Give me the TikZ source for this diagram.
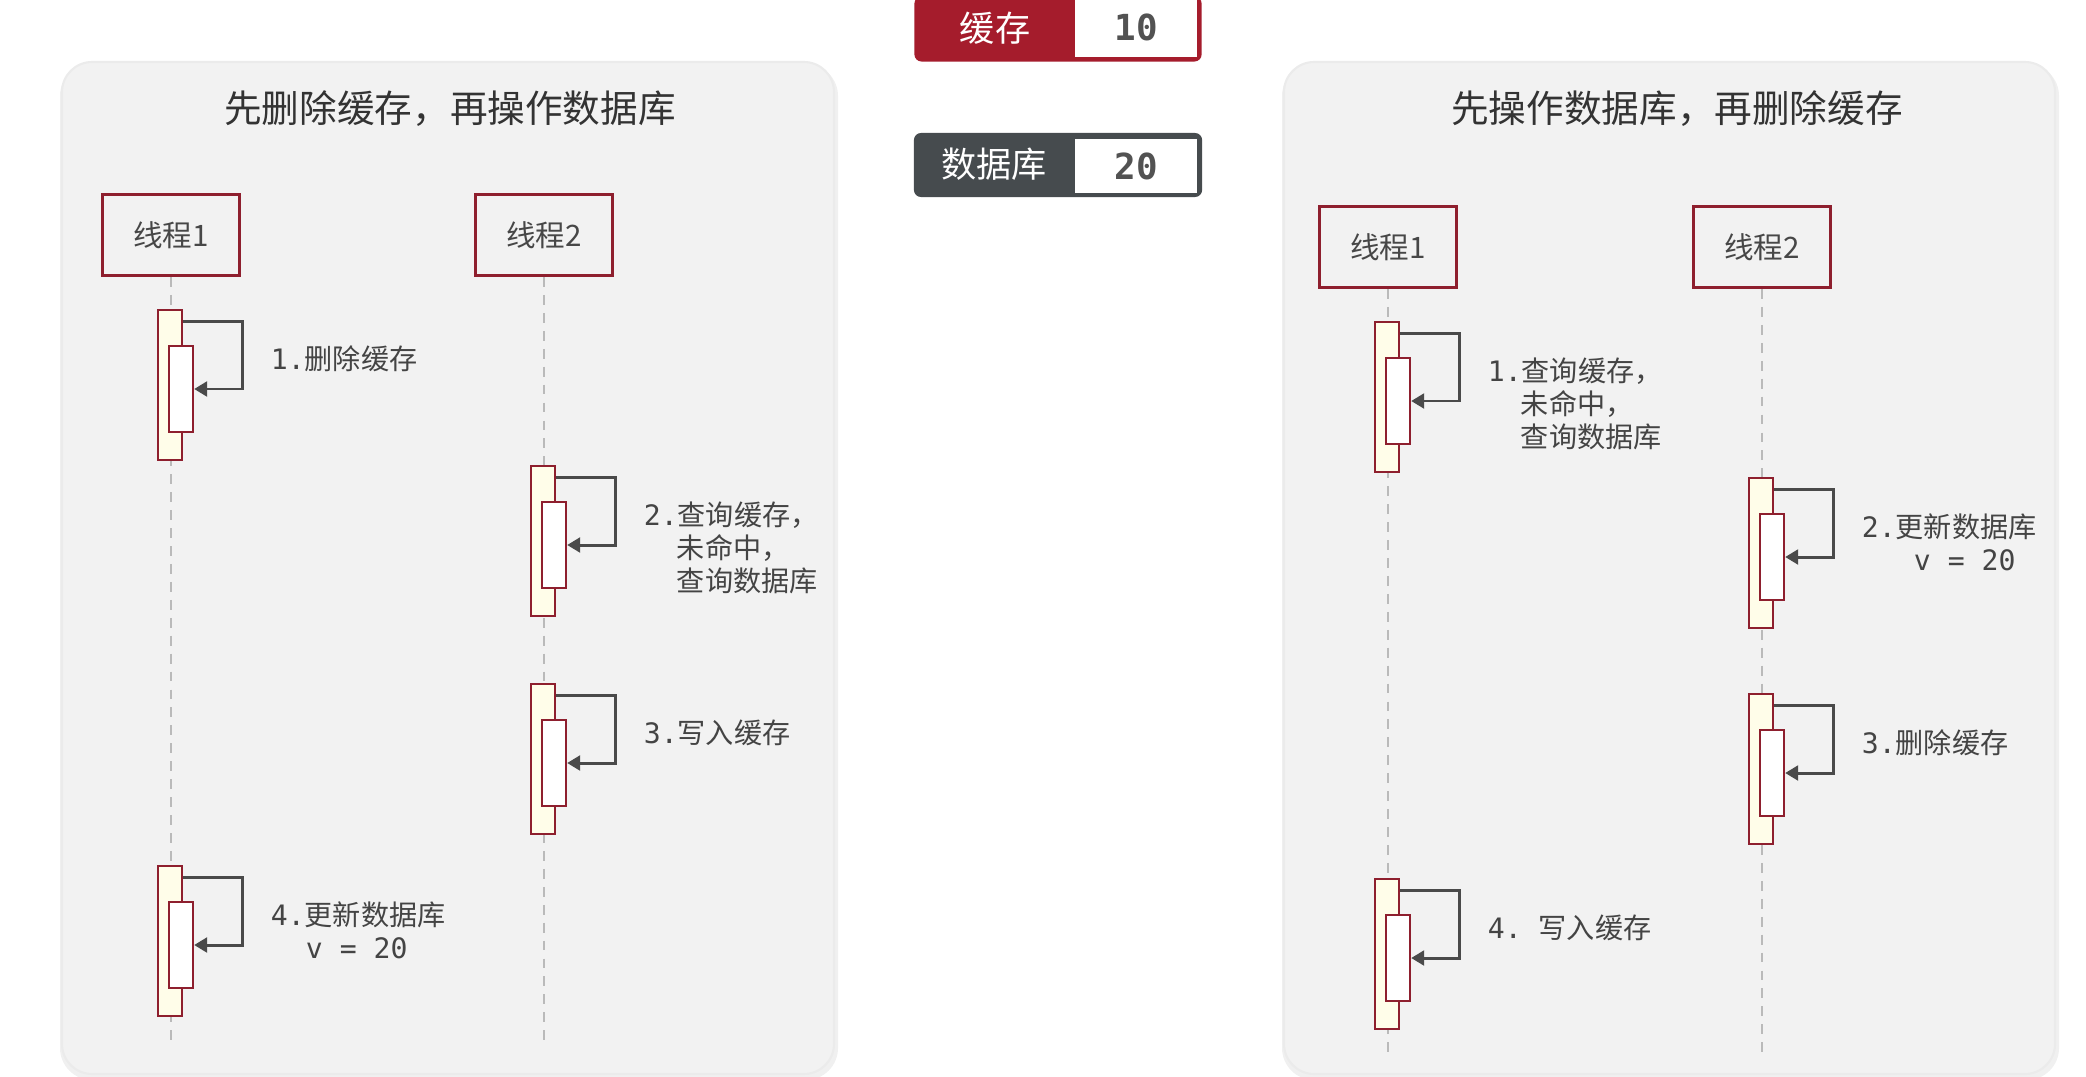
\documentclass[tikz,border=0pt]{standalone}
\usepackage{fontspec}
\newfontfamily\cjk{Noto Sans CJK SC}
\setmonofont{DejaVu Sans Mono}
\usetikzlibrary{positioning, arrows.meta}

\definecolor{panelgray}{HTML}{F2F2F2}
\definecolor{darkred}{HTML}{8E1F2E}
\definecolor{barcream}{HTML}{FFFDE9}
\definecolor{arrowgray}{HTML}{4A4A4A}
\definecolor{cachered}{HTML}{A51C2C}
\definecolor{dbgray}{HTML}{464B4E}
\definecolor{textgray}{HTML}{444444}

\newcommand{\ind}{\hspace*{0.33cm}}

\begin{document}
\begin{tikzpicture}[
  x=0.01cm, y=-0.01cm,
  font=\cjk,
  panel/.style={fill=panelgray, draw=black!8, line width=0.6pt, rounded corners=0.3cm},
  shade/.style={fill=black, opacity=0.06, rounded corners=0.32cm},
  title/.style={font=\cjk\fontsize{10.7}{12}\selectfont, text=black!80},
  thread/.style={draw=darkred, fill=panelgray, line width=0.85pt, minimum width=1.37cm,
                 minimum height=0.81cm, inner sep=0pt, font=\cjk\fontsize{8.4}{10}\selectfont,
                 text=black!72},
  life/.style={draw=black!27, line width=0.6pt, dash pattern=on 2.8pt off 2.3pt},
  outbar/.style={draw=darkred, fill=barcream, line width=0.65pt, minimum width=0.24cm,
                 minimum height=1.5cm, inner sep=0pt},
  inbar/.style={draw=darkred, fill=white, line width=0.65pt, minimum width=0.24cm,
                minimum height=0.86cm, inner sep=0pt},
  selfcall/.style={-{Triangle[length=3.7pt, width=4.2pt]}, draw=arrowgray, line width=0.85pt},
  lab/.style={font=\cjk\fontsize{8}{9.5}\selectfont, text=textgray, align=left, inner sep=0pt},
  keybox/.style={rounded corners=2pt, inner sep=0pt},
  keytext/.style={text=white, inner sep=0pt, font=\cjk\fontsize{10}{12}\selectfont},
  valbox/.style={fill=white, inner sep=0pt, minimum width=1.22cm, text=black!68,
                 font=\ttfamily\bfseries\fontsize{10.2}{12}\selectfont},
]
\useasboundingbox (0,0) rectangle (2086,1076);

% panels
\fill[shade] (60,64) rectangle (838,1080);
\draw[panel] (62,62) rectangle (834,1074);
\fill[shade] (1282,64) rectangle (2059,1080);
\draw[panel] (1284,62) rectangle (2055,1074);

\node[title] (ltitle) at (450,109) {先删除缓存，再操作数据库};
\node[title] (rtitle) at (1677,109) {先操作数据库，再删除缓存};

% cache / db values
\node[keybox, fill=cachered, minimum width=2.87cm, minimum height=0.65cm] (cachebox) at (1058,29) {};
\node[keytext] (cachekey) at (995,28) {缓存};
\node[valbox, minimum height=0.6cm] (cacheval) at (1136,27) {10};
\node[keybox, fill=dbgray, minimum width=2.88cm, minimum height=0.64cm] (dbbox) at (1058,165) {};
\node[keytext] (dbkey) at (994,164) {数据库};
\node[valbox, minimum height=0.54cm] (dbval) at (1136,166) {20};

% threads
\node[thread] (lt1) at (171,235) {线程1};
\node[thread] (lt2) at (544,235) {线程2};
\node[thread] (rt1) at (1388,247) {线程1};
\node[thread] (rt2) at (1762,247) {线程2};

\coordinate (lend) at (0,1043);
\coordinate (rend) at (0,1055);
\draw[life] (lt1.south) -- (lt1.south |- lend);
\draw[life] (lt2.south) -- (lt2.south |- lend);
\draw[life] (rt1.south) -- (rt1.south |- rend);
\draw[life] (rt2.south) -- (rt2.south |- rend);

% activations
\foreach \n/\lx/\t in {l1/171/310, l2/544/466, l3/544/684, l4/171/866,
                       r1/1388/322, r2/1762/478, r3/1762/694, r4/1388/879} {
  \node[outbar] (\n-o) at (\lx-1,\t+75) {};
  \node[inbar] (\n-i) at (\lx+10,\t+79) {};
  \draw[selfcall] ([yshift=-0.13cm]\n-o.north east) -- ++(59,0) |- (\n-i.east);
}

\node[lab, below right=0.36cm and 0.87cm of l1-o.north east] (l1-lab)
  {{\ttfamily 1.}删除缓存};
\node[lab, below right=0.36cm and 0.87cm of l2-o.north east] (l2-lab)
  {{\ttfamily 2.}查询缓存，\\\ind{}未命中，\\\ind{}查询数据库};
\node[lab, below right=0.36cm and 0.87cm of l3-o.north east] (l3-lab)
  {{\ttfamily 3.}写入缓存};
\node[lab, below right=0.36cm and 0.87cm of l4-o.north east] (l4-lab)
  {{\ttfamily 4.}更新数据库\\\hspace*{0.35cm}{\ttfamily v = 20}};

\node[lab, below right=0.36cm and 0.87cm of r1-o.north east] (r1-lab)
  {{\ttfamily 1.}查询缓存，\\\ind{}未命中，\\\ind{}查询数据库};
\node[lab, below right=0.36cm and 0.87cm of r2-o.north east] (r2-lab)
  {{\ttfamily 2.}更新数据库\\\hspace*{0.52cm}{\ttfamily v = 20}};
\node[lab, below right=0.36cm and 0.87cm of r3-o.north east] (r3-lab)
  {{\ttfamily 3.}删除缓存};
\node[lab, below right=0.36cm and 0.87cm of r4-o.north east] (r4-lab)
  {{\ttfamily 4.\ }写入缓存};
\end{tikzpicture}
\end{document}
